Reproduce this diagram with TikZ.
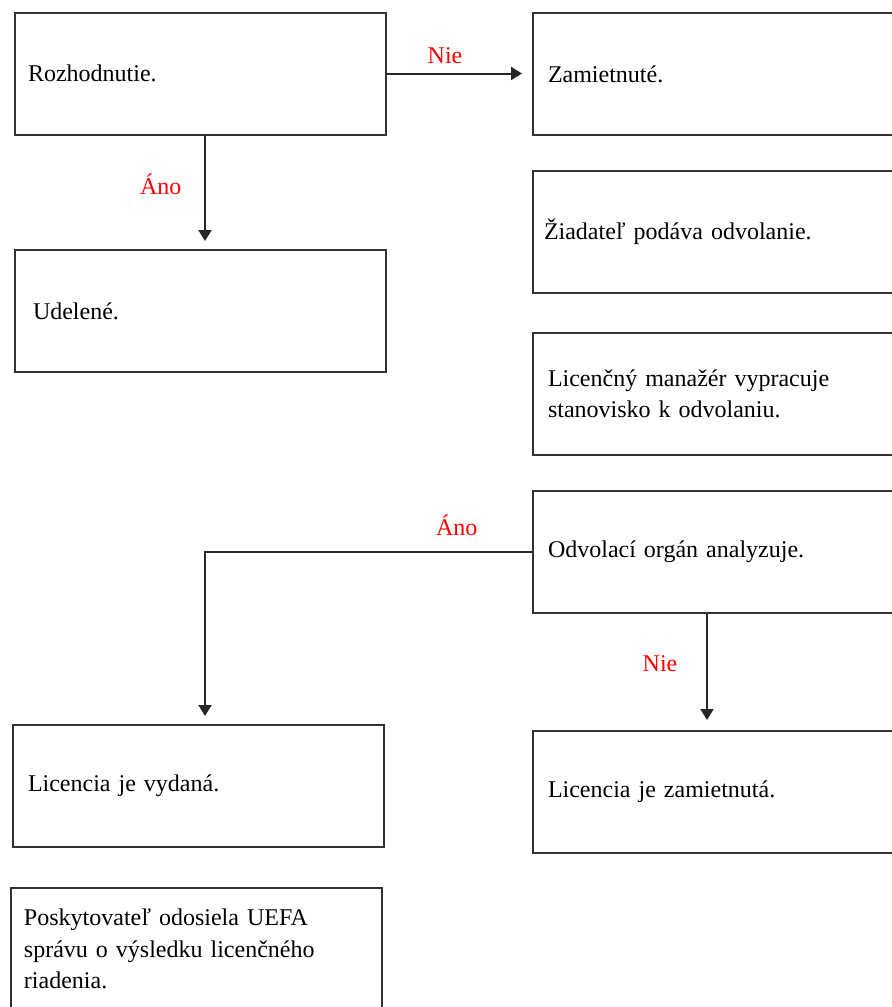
\documentclass[tikz,border=0pt]{standalone}
\usepackage{fontspec}
\setmainfont{Liberation Serif}
\usetikzlibrary{arrows.meta}

\begin{document}
\begin{tikzpicture}[x=0.5pt, y=-0.5pt,
		krok/.style={draw=black!80, line width=1pt, rectangle, anchor=north west, minimum height=61pt, inner ysep=0pt, inner xsep=7.5pt, text width=170.5pt, align=left, font=\fontsize{12}{15.8}\selectfont},
		sipka/.style={draw=black!85, line width=1pt, -{Triangle[width=6.5pt,length=5.5pt]}},
		volba/.style={text=red, font=\fontsize{12}{14}\selectfont}]
		\useasboundingbox (0,0) rectangle (892,1007);
		\clip (0,0) rectangle (892,1007);

		\node[krok, inner xsep=6.5pt, text width=172.5pt] (roz) at (14,11.5) {Rozhodnutie.};
		\node[krok] (zam) at (532,12) {Zamietnuté.};
		\node[krok, inner xsep=9pt, text width=167.5pt] (udel) at (14,249) {Udelené.};
		\node[krok, inner xsep=5.5pt, text width=174.5pt] (ziad) at (532,170) {Žiadateľ podáva odvolanie.};
		\node[krok] (lman) at (532,332) {Licenčný manažér vypracuje\\stanovisko k odvolaniu.};
		\node[krok] (odv) at (532,490) {Odvolací orgán analyzuje.};
		\node[krok] (vyd) at (12,724) {Licencia je vydaná.};
		\node[krok] (lzam) at (532,730) {Licencia je zamietnutá.};
		\node[krok, inner xsep=6.5pt, text width=172.5pt] (posk) at (10,887) {Poskytovateľ odosiela UEFA\\správu o výsledku licenčného\\riadenia.};

		\draw[sipka, shorten >=5pt] (roz.east) -- (roz.east -| zam.west) node[volba, pos=0.4, above=1pt] (nie1) {Nie};
		\draw[sipka, shorten >=4pt] ([xshift=2.25pt]roz.south) -- ([xshift=2.25pt]udel.north) node[volba, midway, left=8pt, yshift=4pt] (ano1) {Áno};
		\draw[sipka, shorten >=4pt] (odv.west) -| ([xshift=3.25pt]vyd.north) node[volba, pos=0.115, above=4.5pt] (ano2) {Áno};
		\draw[sipka, shorten >=5pt] ([xshift=-5.75pt]odv.south) -- ([xshift=-5.75pt]lzam.north) node[volba, midway, left=11pt, yshift=4pt] (nie2) {Nie};

	\end{tikzpicture}
\end{document}
